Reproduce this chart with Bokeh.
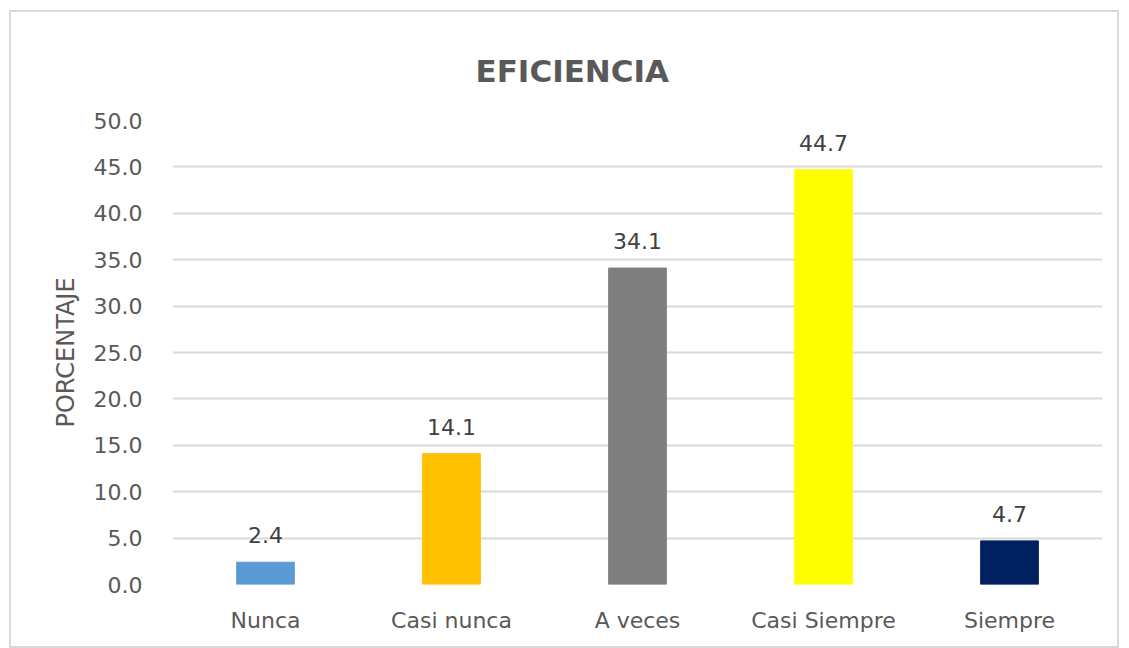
from bokeh.plotting import figure
from bokeh.models import ColumnDataSource, LabelSet, SingleIntervalTicker, CustomJSTickFormatter
from bokeh.core.properties import value
from bokeh.embed import file_html
from bokeh.resources import INLINE

categories = ["Nunca", "Casi nunca", "A veces", "Casi Siempre", "Siempre"]
values = [2.4, 14.1, 34.1, 44.7, 4.7]
colors = ["#5B9BD5", "#FFC000", "#7F7F7F", "#FFFF00", "#002060"]
value_labels = ["%.1f" % v for v in values]

FONT = "DejaVu Sans"

src = ColumnDataSource(dict(cat=categories, val=values, col=colors, lab=value_labels))

p = figure(x_range=categories, y_range=(0, 50), frame_width=930, frame_height=464,
           output_backend="svg", toolbar_location=None, title="EFICIENCIA",
           min_border_left=161, min_border_right=15, min_border_top=108, min_border_bottom=62)
p.styles = {"border": "2px solid #d9d9d9", "margin-left": "9px", "margin-top": "10px"}

p.title.align = "left"
p.title.offset = 303
p.title.standoff = 63
p.title.text_font = FONT
p.title.text_font_size = "31px"
p.title.text_font_style = "bold"
p.title.text_color = "#595959"

p.vbar(x="cat", top="val", width=0.31, color="col", source=src)

labels = LabelSet(x="cat", y="val", text="lab", source=src, y_offset=19,
                  text_align="center", text_baseline="bottom",
                  text_font=value(FONT), text_font_size="22px", text_color="#404040")
p.add_layout(labels)

p.outline_line_color = None
p.xgrid.grid_line_color = None
p.ygrid.grid_line_color = "#d9d9d9"
p.ygrid.grid_line_width = 2

p.yaxis.ticker = SingleIntervalTicker(interval=5)
p.yaxis.formatter = CustomJSTickFormatter(code="return tick.toFixed(1);")
for ax in (p.xaxis[0], p.yaxis[0]):
    ax.axis_line_color = None
    ax.major_tick_line_color = None
    ax.minor_tick_line_color = None
    ax.major_label_text_font = FONT
    ax.major_label_text_font_size = "22px"
    ax.major_label_text_color = "#595959"
p.yaxis.major_label_standoff = 24
p.xaxis.major_label_standoff = 17

p.yaxis.axis_label = "PORCENTAJE"
p.yaxis.axis_label_text_font = FONT
p.yaxis.axis_label_text_font_size = "24px"
p.yaxis.axis_label_text_font_style = "normal"
p.yaxis.axis_label_text_color = "#595959"
p.yaxis.axis_label_standoff = 11

open("out.html", "w").write(file_html(p, INLINE))
